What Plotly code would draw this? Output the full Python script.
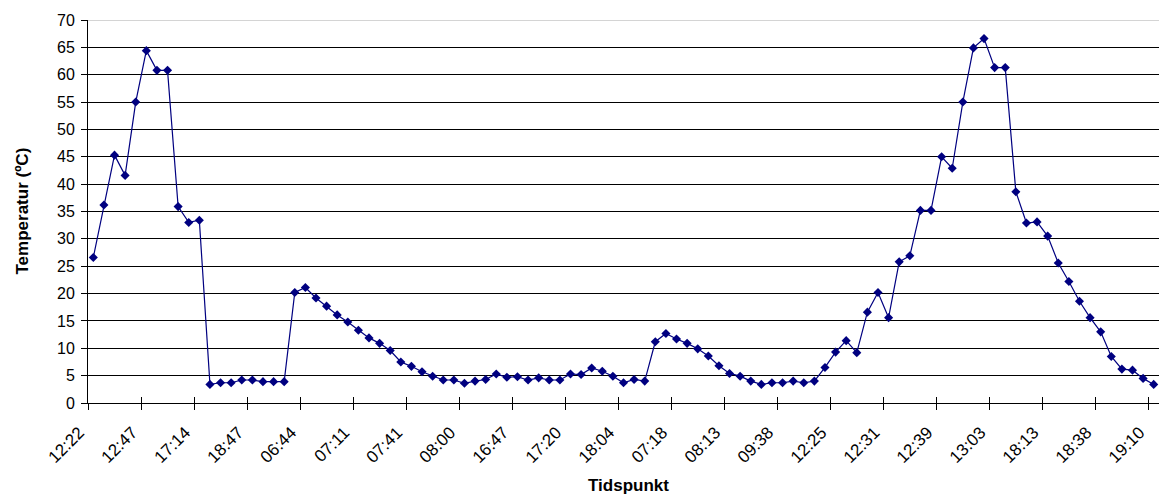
import plotly.graph_objects as go

# Tick labels shown on the category axis (every 5th category)
tick_labels = ["12:22", "12:47", "17:14", "18:47", "06:44", "07:11", "07:41",
               "08:00", "16:47", "17:20", "18:04", "07:18", "08:13", "09:38",
               "12:25", "12:31", "12:39", "13:03", "18:13", "18:38", "19:10"]
label_step = 5

# Temperature readings (ºC), one per sampling point
temperature = [
    26.6, 36.2, 45.3, 41.6, 55.0, 64.4, 60.8, 60.8, 35.9, 33.0,
    33.4, 3.4, 3.7, 3.7, 4.2, 4.2, 3.9, 3.9, 3.9, 20.2,
    21.1, 19.2, 17.7, 16.1, 14.8, 13.3, 11.9, 10.9, 9.6, 7.5,
    6.7, 5.7, 4.9, 4.2, 4.2, 3.6, 4.0, 4.3, 5.3, 4.7,
    4.8, 4.2, 4.6, 4.2, 4.2, 5.3, 5.2, 6.4, 5.8, 4.9,
    3.7, 4.3, 4.0, 11.2, 12.7, 11.7, 10.9, 9.9, 8.6, 6.8,
    5.4, 4.9, 4.0, 3.4, 3.7, 3.7, 4.0, 3.7, 4.0, 6.5,
    9.3, 11.4, 9.2, 16.6, 20.2, 15.6, 25.8, 26.9, 35.2, 35.2,
    45.0, 42.9, 55.0, 64.9, 66.6, 61.3, 61.3, 38.6, 32.9, 33.1,
    30.5, 25.6, 22.2, 18.6, 15.6, 13.0, 8.5, 6.2, 6.0, 4.5,
    3.4,
]

n = len(temperature)
idx = list(range(n))
label_pos = idx[::label_step]
boundary_pos = [p - 0.5 for p in label_pos if p - 0.5 < n - 0.5]

FONT = "Liberation Sans, Arial, sans-serif"
NAVY = "#000080"

fig = go.Figure()
fig.add_trace(go.Scatter(
    x=idx, y=temperature, mode="lines+markers",
    line=dict(color=NAVY, width=1.2),
    marker=dict(symbol="diamond", size=7, color=NAVY),
    showlegend=False, cliponaxis=False,
))
# invisible trace to activate the overlaying axis used for crossing tick marks
fig.add_trace(go.Scatter(x=[idx[0]], y=[temperature[0]], xaxis="x2",
                         mode="markers", marker=dict(opacity=0),
                         showlegend=False, hoverinfo="skip"))

fig.update_layout(
    width=1159, height=495,
    margin=dict(l=88, r=0, t=20, b=92, autoexpand=False),
    paper_bgcolor="white", plot_bgcolor="white",
    font=dict(family=FONT, size=16, color="black"),
    xaxis=dict(
        range=[-0.5, n - 0.5], automargin=False,
        tickmode="array", tickvals=label_pos,
        ticktext=tick_labels, tickangle=-45,
        ticks="", showgrid=False, zeroline=False,
        showline=True, linecolor="black", linewidth=1,
        ticklabelshift=-14, ticklabelstandoff=12,
        tickfont=dict(size=17),
        minor=dict(tickmode="array", tickvals=boundary_pos, ticks="outside",
                   ticklen=6, tickcolor="black", tickwidth=1, showgrid=False),
    ),
    xaxis2=dict(
        range=[-0.5, n - 0.5], overlaying="x", anchor="y", side="bottom",
        automargin=False,
        tickmode="array", tickvals=boundary_pos, ticks="inside",
        ticklen=6, tickcolor="black", showticklabels=False,
        showgrid=False, zeroline=False, showline=False,
    ),
    yaxis=dict(
        range=[0, 70], tickmode="linear", tick0=0, dtick=5, automargin=False,
        ticks="outside", ticklen=6, tickcolor="black",
        showgrid=True, gridcolor="black", gridwidth=1,
        zeroline=False, showline=True, linecolor="black", linewidth=1,
        tickfont=dict(size=16), ticklabelstandoff=3,
    ),
    shapes=[dict(type="line", xref="paper", yref="y", x0=0, x1=1, y0=70, y1=70,
                 line=dict(color="#d4d4d4", width=2), layer="above")],
    annotations=[
        dict(text="<b>Temperatur (ºC)</b>", xref="paper", yref="paper",
             x=0, y=0.5, xanchor="center", yanchor="middle", xshift=-66,
             textangle=-90, showarrow=False,
             font=dict(size=17, family=FONT)),
        dict(text="<b>Tidspunkt</b>", xref="paper", yref="paper",
             x=0.5, y=0, xanchor="center", yanchor="bottom", xshift=5,
             yshift=-94, showarrow=False, font=dict(size=17, family=FONT)),
    ],
)

fig.write_html("out.html", config={"displayModeBar": False},
               post_script="document.body.style.margin='0';document.body.style.overflow='hidden';")
